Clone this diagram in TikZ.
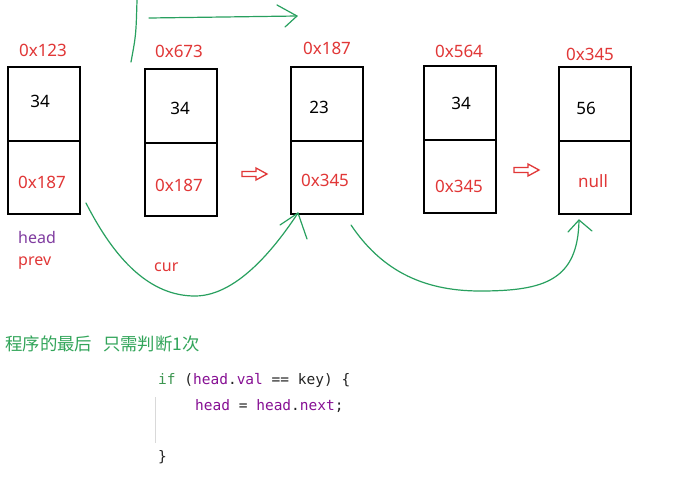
\documentclass[tikz,border=0pt]{standalone}
\usepackage{fontspec}
\setmainfont{Noto Sans}
\setmonofont{DejaVu Sans Mono}
\newfontfamily\cjk{Noto Sans CJK SC}
\definecolor{redc}{RGB}{225,55,55}
\definecolor{greenln}{RGB}{40,160,95}
\definecolor{purph}{RGB}{128,60,160}
\definecolor{greencn}{RGB}{50,165,90}
\definecolor{codepurp}{RGB}{135,16,148}
\definecolor{codegreen}{RGB}{60,150,80}
\definecolor{codeblack}{RGB}{35,35,35}
\tikzset{
  cell/.style={draw=black, line width=1.6, minimum width=72, minimum height=73.5, inner sep=0},
  addr/.style={text=redc, font=\fontsize{17}{20}\selectfont, inner sep=0},
  val/.style={text=black, font=\fontsize{17}{20}\selectfont, inner sep=0},
  varlbl/.style={font=\fontsize{16}{19}\selectfont, inner sep=0, anchor=west},
  gline/.style={draw=greenln, line width=1.2, line cap=round, line join=round},
  harrow/.style={draw=redc, fill=white, line width=1.3, line join=miter},
  code/.style={font=\ttfamily\fontsize{14.5}{17}\selectfont, inner sep=0, anchor=base west, text=codeblack}
}
\begin{document}
\begin{tikzpicture}[x=1pt,y=-1pt]
\useasboundingbox (0,0) rectangle (685,477);
\fill[white] (0,0) rectangle (685,477);
% boxes
\node[cell] (t1) at (44,104) {};
\node[cell] (u1) at (44,177.5) {};
\node[cell] (t2) at (181,106) {};
\node[cell] (u2) at (181,179.5) {};
\node[cell] (t3) at (327,104) {};
\node[cell] (u3) at (327,177.5) {};
\node[cell] (t4) at (460,103) {};
\node[cell] (u4) at (460,176.5) {};
\node[cell] (t5) at (595,104) {};
\node[cell] (u5) at (595,177.5) {};
% addresses
\node[addr] (a1) at (43,50) {0x123};
\node[addr] (a2) at (179,51) {0x673};
\node[addr] (a3) at (327,48) {0x187};
\node[addr] (a4) at (459,51) {0x564};
\node[addr] (a5) at (590,54) {0x345};
% values
\node[val] (v1) at (40,101) {34};
\node[val] (v2) at (180,108) {34};
\node[val] (v3) at (319,107) {23};
\node[val] (v4) at (461,103) {34};
\node[val] (v5) at (586,108) {56};
% next pointers
\node[addr] (n1) at (42,182) {0x187};
\node[addr] (n2) at (179,185) {0x187};
\node[addr] (n3) at (325,180) {0x345};
\node[addr] (n4) at (459,186) {0x345};
\node[addr] (n5) at (593,181) {null};
% labels
\node[varlbl, text=purph] (hd) at (18,237) {head};
\node[varlbl, text=redc] (pv) at (18,263) {prev};
\node[varlbl, text=redc] (cu) at (154,267) {cur};
% red hollow arrows
\draw[harrow] (242,171.5) -- (256,171.5) -- (256,168) -- (267,174) -- (256,180) -- (256,176.5) -- (242,176.5) -- cycle;
\draw[harrow] (514,167.5) -- (528,167.5) -- (528,164) -- (539,170) -- (528,176) -- (528,172.5) -- (514,172.5) -- cycle;
% green curves
\coordinate (s1) at (86,203);
\coordinate (e1) at (298,213);
\draw[gline] (s1) .. controls (115,260) and (150,296) .. (195,296) .. controls (240,296) and (280,240) .. (e1);
\draw[gline] (280,225) -- (e1) -- (307,239);
\coordinate (s2) at (351,225);
\coordinate (e2) at (579,220);
\draw[gline] (s2) .. controls (380,268) and (420,291) .. (480,291) .. controls (545,291) and (578,280) .. (e2);
\draw[gline] (568,232) -- (e2) -- (592,231);
% top strokes
\coordinate (tv1) at (131,62);
\coordinate (tv2) at (137,0);
\draw[gline] (tv1) .. controls (136,35) .. (tv2);
\coordinate (th1) at (149,18);
\coordinate (th2) at (297,16);
\draw[gline] (th1) -- (th2);
\draw[gline] (277,5) -- (th2) -- (285,27);
% chinese note
\node[inner sep=0, anchor=west, text=greencn, font=\cjk\fontsize{17.4}{20}\selectfont] (note) at (5,344) {程序的最后\hspace{11pt}只需判断1次};
% code
\draw[draw=black!15, line width=1] (155,397) -- (155,443);
\node[code] (c1) at (158,384) {\textcolor{codegreen}{if} (\textcolor{codepurp}{head}.\textcolor{codepurp}{val} == key) \{};
\node[code] (c2) at (195,410) {\textcolor{codepurp}{head} = \textcolor{codepurp}{head}.\textcolor{codepurp}{next};};
\node[code] (c3) at (158,461) {\}};
\end{tikzpicture}
\end{document}
